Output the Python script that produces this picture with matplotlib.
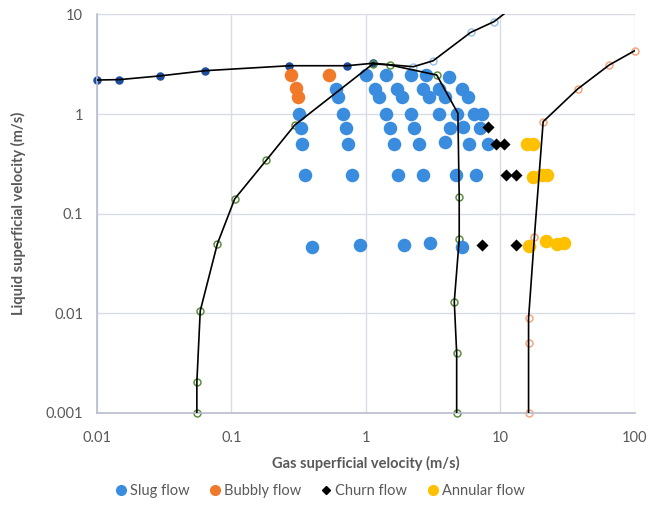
import matplotlib
matplotlib.use("Agg")
import numpy as np
import matplotlib.pyplot as plt
from matplotlib.lines import Line2D

plt.rcParams['font.family'] = ['Lato', 'DejaVu Sans']

# ------------------------------------------------------------
#  Observed flow-pattern points (gas Usg, liquid Usl), m/s
# ------------------------------------------------------------
slug_x = [1.0, 1.40, 2.16, 2.79, 4.17,
          0.60, 0.62, 1.16, 1.25, 1.71, 1.84, 2.67, 2.94, 3.49, 3.87, 5.2, 5.77,
          0.318, 0.676, 1.40, 2.16, 3.49, 4.73, 6.35, 7.33,
          0.327, 0.705, 1.51, 2.28, 4.22, 5.3, 7.05,
          0.335, 0.736, 1.61, 2.48, 3.87, 5.86, 8.04,
          0.351, 0.79, 1.72, 2.67, 4.65, 6.58,
          0.40, 0.90, 1.92, 2.99, 5.15]
slug_y = [2.45, 2.45, 2.45, 2.45, 2.35,
          1.77, 1.50, 1.77, 1.50, 1.77, 1.50, 1.77, 1.50, 1.77, 1.50, 1.77, 1.50,
          1.0, 1.0, 1.0, 1.0, 1.0, 1.0, 1.0, 1.0,
          0.73, 0.73, 0.73, 0.73, 0.73, 0.74, 0.73,
          0.50, 0.50, 0.50, 0.50, 0.52, 0.50, 0.50,
          0.245, 0.245, 0.245, 0.245, 0.245, 0.245,
          0.0467, 0.0485, 0.0485, 0.0505, 0.0467]

bubbly_x = [0.275, 0.53, 0.30, 0.31]
bubbly_y = [2.45, 2.45, 1.82, 1.50]

churn_x = [8.04, 9.27, 10.7, 11.1, 13.0, 7.33, 13.0]
churn_y = [0.74, 0.50, 0.50, 0.245, 0.245, 0.049, 0.049]

annular_x = [15.7, 17.6, 17.6, 20.3, 22.1, 16.4, 21.9, 26.2, 29.8]
annular_y = [0.50, 0.50, 0.232, 0.245, 0.245, 0.0478, 0.0532, 0.0497, 0.0513]

# ------------------------------------------------------------
#  Transition boundaries
# ------------------------------------------------------------
top_x = [0.01, 0.0147, 0.0295, 0.064, 0.27, 0.72, 1.13]
top_y = [2.2, 2.22, 2.42, 2.73, 3.06, 3.06, 3.24]

top2_x = [1.13, 2.25, 3.16, 6.0, 9.0, 12.5]
top2_y = [3.24, 2.99, 3.43, 6.6, 8.5, 12.0]

slug_bnd_x = [0.0553, 0.0553, 0.0586, 0.0785, 0.1057, 0.182, 0.296, 1.13, 1.51,
              3.36, 4.83, 4.94, 4.94, 4.54, 4.73, 4.73]
slug_bnd_y = [0.001, 0.00204, 0.0106, 0.0497, 0.141, 0.346, 0.778, 3.2, 3.11,
              2.47, 1.02, 0.148, 0.0553, 0.0131, 0.0040, 0.001]

ann_bnd_x = [16.2, 16.2, 16.2, 17.9, 20.8, 37.6, 64.4, 100.0]
ann_bnd_y = [0.001, 0.005, 0.0089, 0.0587, 0.84, 1.79, 3.11, 4.34]

x_ticks = [0.01, 0.1, 1, 10, 100]
x_tick_labels = ["0.01", "0.1", "1", "10", "100"]
y_ticks = [0.001, 0.01, 0.1, 1, 10]
y_tick_labels = ["0.001", "0.01", "0.1", "1", "10"]

XLIM = (0.01, 100)
YLIM = (0.001, 10)

C_SLUG = "#3A8DDE"
C_BUBBLY = "#F07A2A"
C_ANNULAR = "#FFC000"
TXT = "#595959"

fig = plt.figure(figsize=(6.62, 5.14), dpi=100)
ax = fig.add_axes([0.1465, 0.1965, 0.8125, 0.7753])

ax.scatter(slug_x, slug_y, s=95, color=C_SLUG, zorder=3, linewidths=0)
ax.scatter(bubbly_x, bubbly_y, s=95, color=C_BUBBLY, zorder=3, linewidths=0)
ax.scatter(annular_x, annular_y, s=95, color=C_ANNULAR, zorder=3, linewidths=0)
ax.scatter(churn_x, churn_y, s=38, marker="D", color="black", zorder=3, linewidths=0)


def boundary(xs, ys, face, edge, mz):
    xs = np.asarray(xs)
    ys = np.asarray(ys)
    # the line is clipped to the plot box, the markers are not
    ax.plot(xs, ys, color="black", linewidth=1.2, zorder=4)
    inside = (xs >= XLIM[0]) & (xs <= XLIM[1]) & (ys >= YLIM[0]) & (ys <= YLIM[1])
    ax.plot(xs[inside], ys[inside], linestyle="none", marker="o", markersize=5,
            markerfacecolor=face, markeredgecolor=edge, markeredgewidth=1.1,
            zorder=mz, clip_on=False)


boundary(top_x, top_y, "#1F4E9C", "#1F4E9C", 2.4)
boundary(top2_x, top2_y, "none", "#9DC3E6", 2.3)
boundary(slug_bnd_x, slug_bnd_y, "none", "#5E8F3E", 2.5)
boundary(ann_bnd_x, ann_bnd_y, "none", "#F4A77E", 2.5)

ax.set_xscale("log")
ax.set_yscale("log")
ax.set_xlim(*XLIM)
ax.set_ylim(*YLIM)
ax.set_xticks(x_ticks)
ax.set_xticklabels(x_tick_labels)
ax.set_yticks(y_ticks)
ax.set_yticklabels(y_tick_labels)
ax.minorticks_off()
ax.tick_params(length=0, labelsize=10.5, labelcolor=TXT)
ax.tick_params(axis="x", pad=13)
ax.tick_params(axis="y", pad=10)

ax.grid(True, color="#D9DCE6", linewidth=1.0, zorder=0)
ax.set_axisbelow(True)
for side in ("top", "right"):
    ax.spines[side].set_visible(False)
for side in ("left", "bottom"):
    ax.spines[side].set_color("#B8BDD0")
    ax.spines[side].set_linewidth(1.2)

ax.set_xlabel("Gas superficial velocity (m/s)", fontsize=10.5, fontweight="bold",
              color=TXT, labelpad=8)
ax.set_ylabel("Liquid superficial velocity (m/s)", fontsize=10.5, fontweight="bold",
              color=TXT, labelpad=14)

handles = [
    Line2D([], [], marker="o", linestyle="none", color=C_SLUG, markersize=7),
    Line2D([], [], marker="o", linestyle="none", color=C_BUBBLY, markersize=7),
    Line2D([], [], marker="D", linestyle="none", color="black", markersize=4),
    Line2D([], [], marker="o", linestyle="none", color=C_ANNULAR, markersize=7),
]
labels = ["Slug flow", "Bubbly flow", "Churn flow", "Annular flow"]
fig.legend(handles, labels, loc="center", bbox_to_anchor=(0.482, 0.045), ncol=4,
           frameon=False, fontsize=10.5, labelcolor=TXT, handletextpad=0.1,
           columnspacing=1.25, handlelength=1.0)

fig.savefig("out.png", dpi=100)
